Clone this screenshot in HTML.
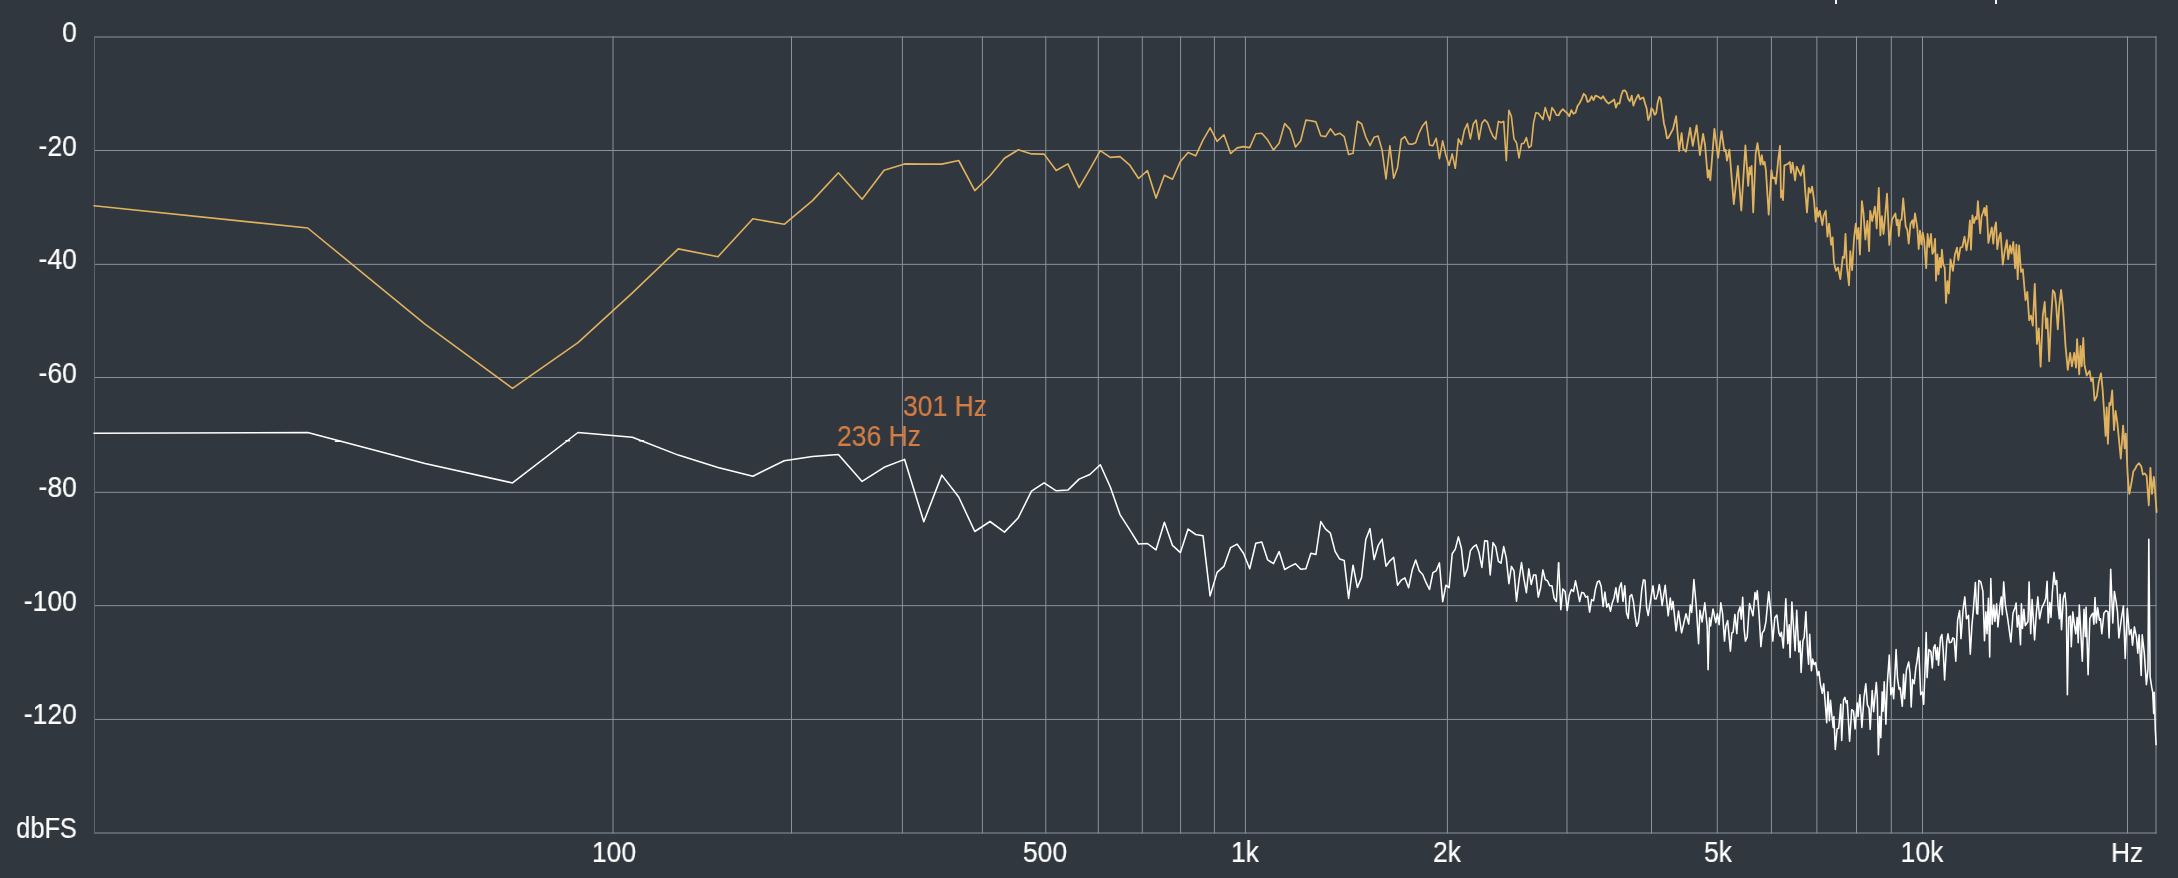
<!DOCTYPE html>
<html><head><meta charset="utf-8"><title>Spectrum</title>
<style>
html,body{margin:0;padding:0;background:#31373e;}
body{width:2178px;height:878px;position:relative;overflow:hidden;font-family:"Liberation Sans",sans-serif;color:#fff;}
.t{position:absolute;font-size:30.3px;line-height:36px;height:36px;white-space:nowrap;transform:scaleX(0.875);will-change:transform;-webkit-text-stroke:0.2px currentColor;}
.yl{left:0;width:76.9px;text-align:right;transform-origin:100% 50%;}
.xl{width:100px;text-align:center;transform-origin:50% 50%;}
.pk{color:#d47e45;transform-origin:0 50%;}
</style></head><body>
<svg width="2178" height="878" viewBox="0 0 2178 878" style="position:absolute;left:0;top:0">
<path d="M94.0 37.00 H2156.5 M94.0 150.50 H2156.5 M94.0 264.35 H2156.5 M94.0 377.50 H2156.5 M94.0 492.30 H2156.5 M94.0 605.65 H2156.5 M94.0 719.45 H2156.5 M94.0 833.00 H2156.5 M613.00 36.5 V833.5 M791.50 36.5 V833.5 M902.40 36.5 V833.5 M982.40 36.5 V833.5 M1045.80 36.5 V833.5 M1098.30 36.5 V833.5 M1142.30 36.5 V833.5 M1180.60 36.5 V833.5 M1214.40 36.5 V833.5 M1245.40 36.5 V833.5 M1447.40 36.5 V833.5 M1567.00 36.5 V833.5 M1651.50 36.5 V833.5 M1717.30 36.5 V833.5 M1771.40 36.5 V833.5 M1816.90 36.5 V833.5 M1856.50 36.5 V833.5 M1891.30 36.5 V833.5 M1922.50 36.5 V833.5 M2127.50 36.5 V833.5 M2156.00 36.5 V833.5" stroke="#8a929c" stroke-width="1" fill="none"/>
<rect x="94" y="36.5" width="1" height="797" fill="#5e656e"/>
<rect x="1835" y="0" width="2" height="4" fill="#f2f2f8"/><rect x="1995" y="0" width="2" height="4" fill="#f2f2f8"/>
<path d="M94.0 205.8 L307.7 228.0 L425.0 324.1 L512.5 388.4 L578.0 342.7 L632.4 292.9 L678.3 248.9 L718.0 256.7 L752.9 218.8 L784.2 224.3 L812.5 200.6 L838.4 172.8 L862.1 199.2 L884.1 170.3 L904.6 163.9 L923.8 164.1 L941.8 164.1 L958.7 160.5 L974.8 190.6 L990.0 175.7 L1004.5 158.2 L1018.3 149.8 L1031.5 153.9 L1044.1 154.1 L1056.2 170.5 L1067.9 163.9 L1079.1 187.7 L1089.8 169.3 L1100.3 150.7 L1110.3 157.4 L1120.0 156.6 L1129.5 164.8 L1138.6 178.5 L1147.4 170.6 L1156.0 198.1 L1164.4 175.2 L1172.5 179.2 L1180.4 161.4 L1188.1 152.4 L1195.7 155.8 L1203.0 140.1 L1210.1 127.8 L1217.1 141.4 L1223.9 134.8 L1230.6 153.6 L1237.1 147.9 L1243.5 146.6 L1249.7 147.6 L1255.8 133.8 L1261.8 133.2 L1267.7 140.1 L1273.5 150.1 L1279.1 143.2 L1284.7 123.6 L1290.1 129.4 L1295.5 147.0 L1300.7 140.7 L1305.9 120.1 L1310.9 120.7 L1315.9 121.9 L1320.8 135.7 L1325.6 136.6 L1330.4 128.8 L1335.1 135.1 L1339.7 133.2 L1344.2 136.6 L1348.6 154.5 L1353.0 153.3 L1357.4 121.3 L1361.6 123.8 L1365.8 137.0 L1370.0 145.7 L1374.1 137.3 L1378.1 136.1 L1382.1 150.1 L1386.0 178.9 L1389.9 145.7 L1393.7 178.3 L1397.5 167.7 L1401.2 139.5 L1404.9 136.6 L1408.6 143.9 L1412.2 144.2 L1415.7 142.7 L1419.2 132.6 L1422.7 125.7 L1426.1 121.4 L1429.5 144.9 L1432.9 145.8 L1436.2 138.3 L1439.4 158.7 L1442.7 140.8 L1445.9 155.2 L1449.1 165.5 L1452.2 153.9 L1455.3 168.3 L1458.4 138.9 L1461.4 144.5 L1464.4 130.1 L1467.4 123.6 L1470.4 138.9 L1473.3 123.9 L1476.2 120.1 L1479.0 139.5 L1481.9 123.2 L1484.7 119.8 L1487.5 122.6 L1490.2 130.1 L1493.0 136.4 L1495.7 139.1 L1498.4 121.4 L1501.0 122.6 L1503.7 121.4 L1506.3 160.8 L1508.9 110.3 L1511.4 116.3 L1514.0 138.9 L1516.5 142.7 L1519.0 157.9 L1521.5 143.9 L1523.9 143.3 L1526.4 137.6 L1528.8 147.7 L1531.2 145.8 L1533.6 122.6 L1535.9 112.8 L1538.3 113.2 L1540.6 116.3 L1542.9 119.5 L1545.2 107.6 L1547.5 114.5 L1549.7 120.4 L1552.0 107.6 L1554.2 110.7 L1556.4 115.1 L1558.6 115.3" stroke="#e0b25e" stroke-width="1.6" fill="none" stroke-linejoin="round" stroke-linecap="round"/>
<path d="M1558.6 115.3 L1560.8 111.3 L1562.9 109.1 L1565.1 111.3 L1567.2 113.2 L1569.3 116.3 L1571.4 110.1 L1573.5 113.8 L1575.5 112.8 L1577.6 105.7 L1579.6 103.2 L1581.7 98.8 L1583.7 93.8 L1585.7 95.7 L1587.6 101.9 L1589.6 100.7 L1591.6 96.3 L1593.5 100.1 L1595.5 95.7 L1597.4 96.3 L1599.3 97.5 L1601.2 98.8 L1603.1 96.3 L1604.9 99.4 L1606.8 101.9 L1608.6 103.6 L1610.5 102.3 L1612.3 101.1 L1614.1 99.4 L1615.9 107.6 L1617.7 103.2 L1619.5 103.6 L1621.3 95.0 L1623.0 90.7 L1624.8 90.3 L1626.5 92.5 L1628.2 98.8 L1629.9 101.3 L1631.7 95.7 L1633.4 105.7 L1635.0 101.3 L1636.7 97.5 L1638.4 94.8 L1640.1 99.4 L1641.7 98.2 L1643.4 97.5 L1645.0 103.2 L1646.6 108.2 L1648.2 120.1 L1649.8 116.3 L1651.4 108.2 L1653.0 110.1 L1654.6 114.8 L1656.2 113.2 L1657.7 102.6 L1659.3 96.9 L1660.8 98.8 L1662.4 111.3 L1663.9 123.2 L1665.4 128.9 L1667.0 138.3 L1668.2 138.0 L1673.0 129.1 L1676.1 116.2 L1679.1 151.0 L1681.6 133.2 L1683.2 149.0 L1686.0 151.7 L1690.1 127.8 L1692.8 145.8 L1696.6 125.3 L1699.9 155.1 L1703.1 133.9 L1705.1 145.5 L1707.8 177.7 L1708.9 170.2 L1710.3 180.4 L1714.4 128.9 L1718.1 157.8 L1721.5 131.2 L1724.3 151.0 L1725.6 149.6 L1727.0 160.6 L1729.4 149.6 L1733.8 204.1 L1737.9 166.0 L1741.3 210.5 L1745.4 145.5 L1748.2 185.9 L1749.5 167.4 L1750.6 174.3 L1751.6 166.0 L1753.2 212.3 L1755.7 153.7 L1757.5 143.1 L1760.5 164.7 L1761.8 155.1 L1763.2 164.7 L1764.6 161.9 L1765.9 170.2 L1768.7 214.6 L1771.4 170.2 L1772.8 178.4 L1774.8 177.7 L1775.9 183.8 L1778.3 159.2 L1780.0 145.8 L1781.0 197.5 L1781.9 190.7 L1783.0 200.2 L1784.4 165.4 L1787.8 164.0 L1789.9 161.9 L1791.0 172.9 L1792.6 162.6 L1795.1 180.4 L1796.7 166.7 L1800.8 175.6 L1803.5 165.4 L1805.2 190.7 L1807.0 212.5 L1808.7 187.9 L1810.4 192.7 L1812.1 186.6 L1814.1 200.5 L1815.7 221.7 L1816.8 208.0 L1818.2 216.9 L1819.8 210.8 L1822.3 225.1 L1823.7 215.5 L1825.7 210.8 L1827.5 236.7 L1829.1 223.7 L1831.2 244.9 L1832.6 237.4 L1833.9 262.0 L1836.0 270.9 L1838.0 267.5 L1840.3 279.1 L1842.8 256.6 L1844.2 257.9 L1845.5 234.0 L1846.9 266.1 L1849.0 285.3 L1850.3 251.1 L1852.1 270.2 L1854.0 238.8 L1855.8 223.7 L1857.2 238.8 L1858.5 227.8 L1859.9 254.5 L1861.9 201.2 L1863.6 214.2 L1865.4 239.5 L1867.4 221.0 L1869.1 251.1 L1870.2 210.8 L1872.2 221.0 L1874.9 206.7 L1876.7 228.5 L1878.8 187.9 L1880.4 235.4 L1881.8 216.2 L1883.5 234.0 L1885.2 215.5 L1887.0 193.7 L1889.3 244.9 L1892.0 219.6 L1895.4 213.5 L1896.8 225.1 L1897.8 219.6 L1898.9 236.0 L1900.2 220.3 L1901.6 219.6 L1903.2 198.5 L1905.7 226.5 L1907.3 229.9 L1908.7 243.6 L1910.5 223.7 L1912.5 220.3 L1913.6 227.8 L1915.0 213.5 L1917.3 227.8 L1918.7 249.0 L1920.0 230.6 L1921.4 244.3 L1922.8 232.6 L1924.1 240.2 L1926.2 268.2 L1927.6 234.0 L1929.2 247.0 L1931.0 234.0 L1932.4 253.8 L1933.7 251.1 L1935.1 238.8 L1936.0 280.5 L1937.4 254.5 L1938.5 274.3 L1939.9 257.9 L1941.0 267.5 L1941.9 249.7 L1943.3 264.8 L1944.7 267.5 L1946.0 303.0 L1947.4 281.2 L1948.8 293.5 L1950.5 259.3 L1952.9 270.9 L1954.9 254.5 L1957.0 247.7 L1958.3 260.0 L1960.4 247.7 L1962.4 247.0 L1964.5 236.7 L1966.5 250.4 L1968.6 237.4 L1969.9 220.3 L1971.0 249.7 L1972.4 215.5 L1974.0 223.1 L1975.7 216.9 L1976.8 219.0 L1977.9 201.2 L1980.2 233.3 L1981.6 216.2 L1982.9 212.8 L1984.3 208.0 L1985.3 215.5 L1986.6 206.0 L1988.4 242.9 L1990.0 235.5 L1991.8 227.3 L1993.3 243.7 L1994.6 228.2 L1996.0 222.4 L1997.3 249.2 L1999.1 237.3 L2000.6 232.8 L2002.8 264.7 L2004.6 251.9 L2006.8 240.1 L2008.2 259.2 L2010.0 245.5 L2011.5 253.7 L2013.3 241.9 L2015.1 268.3 L2016.4 244.6 L2017.7 279.2 L2019.1 245.5 L2021.0 271.9 L2022.8 269.2 L2025.5 300.2 L2027.3 292.0 L2029.2 320.2 L2031.0 315.7 L2032.8 325.7 L2034.8 283.8 L2037.0 343.9 L2038.8 328.4 L2040.6 366.7 L2042.8 315.7 L2044.7 302.0 L2046.1 328.4 L2047.4 318.4 L2049.2 361.2 L2051.0 319.3 L2052.9 290.2 L2054.7 292.9 L2056.1 304.7 L2057.8 329.3 L2059.2 306.6 L2061.1 289.8 L2062.9 306.6 L2064.3 326.6 L2065.5 345.9 L2067.8 369.8 L2070.1 352.8 L2071.9 366.4 L2074.2 352.8 L2076.0 367.6 L2077.1 339.1 L2079.2 374.4 L2080.5 345.9 L2081.7 366.4 L2083.3 338.0 L2084.4 364.2 L2086.7 375.5 L2089.6 371.0 L2091.2 381.2 L2092.8 377.8 L2094.6 400.6 L2096.9 396.0 L2098.7 382.4 L2101.0 373.3 L2102.6 389.2 L2104.4 416.5 L2105.6 435.9 L2106.7 407.4 L2107.9 443.8 L2109.4 402.9 L2110.6 405.1 L2112.2 390.3 L2114.0 430.2 L2115.6 410.8 L2117.4 423.4 L2120.8 458.6 L2123.1 425.6 L2124.7 448.4 L2125.8 433.6 L2127.7 475.7 L2129.3 493.9 L2131.1 484.8 L2133.4 471.2 L2135.2 468.9 L2136.8 465.5 L2139.0 463.2 L2141.3 466.6 L2142.9 474.6 L2144.7 473.4 L2146.6 475.7 L2148.8 505.3 L2150.4 467.8 L2152.0 493.9 L2153.8 476.9 L2155.0 489.4 L2156.6 512.1" stroke="#e0b25e" stroke-width="1.8" fill="none" stroke-linejoin="round" stroke-linecap="round"/>
<path d="M94.0 433.3 L307.7 432.5 L425.0 463.5 L512.5 482.9 L578.0 432.5 L632.4 437.3 L678.3 455.1 L718.0 467.4 L752.9 476.2 L784.2 460.8 L812.5 456.4 L838.4 454.5 L862.1 481.4 L884.1 467.3 L904.6 459.4 L923.8 521.7 L941.8 475.1 L958.7 497.0 L974.8 531.5 L990.0 521.5 L1004.5 532.1 L1018.3 517.7 L1031.5 491.1 L1044.1 482.9 L1056.2 490.8 L1067.9 490.1 L1079.1 479.1 L1089.8 474.5 L1100.3 464.7 L1110.3 487.0 L1120.0 514.6 L1129.5 529.3 L1138.6 544.0 L1147.4 543.5 L1156.0 549.9 L1164.4 522.3 L1172.5 545.4 L1180.4 552.6 L1188.1 529.1 L1195.7 534.5 L1203.0 535.7 L1210.1 595.9 L1217.1 572.4 L1223.9 566.4 L1230.6 547.6 L1237.1 544.1 L1243.5 553.3 L1249.7 568.7 L1255.8 543.2 L1261.8 542.0 L1267.7 559.9 L1273.5 563.7 L1279.1 551.6 L1284.7 569.5 L1290.1 566.4 L1295.5 563.7 L1300.7 569.2 L1305.9 568.7 L1310.9 553.3 L1315.9 554.5 L1320.8 521.6 L1325.6 529.1 L1330.4 533.2 L1335.1 551.4 L1339.7 559.1 L1344.2 560.4 L1348.6 598.4 L1353.0 565.2 L1357.4 587.5 L1361.6 577.4 L1365.8 539.5 L1370.0 528.6 L1374.1 559.5 L1378.1 545.7 L1382.1 539.1 L1386.0 566.2 L1389.9 560.8 L1393.7 557.4 L1397.5 585.2 L1401.2 580.2 L1404.9 577.9 L1408.6 587.7 L1412.2 570.1 L1415.7 560.1 L1419.2 570.8 L1422.7 574.5 L1426.1 582.7 L1429.5 589.5 L1432.9 572.6 L1436.2 570.8 L1439.4 562.9 L1442.7 601.7 L1445.9 585.2 L1449.1 587.7 L1452.2 553.8 L1455.3 549.1 L1458.4 536.9 L1461.4 548.2 L1464.4 576.4 L1467.4 568.9 L1470.4 550.7 L1473.3 546.9 L1476.2 544.8 L1479.0 552.6 L1481.9 567.4 L1484.7 540.7 L1487.5 541.1 L1490.2 574.9 L1493.0 542.6 L1495.7 546.9 L1498.4 561.4 L1501.0 563.2 L1503.7 546.6 L1506.3 558.2 L1508.9 583.7 L1511.4 566.4 L1514.0 570.8 L1516.5 601.2 L1519.0 580.2 L1521.5 562.6 L1523.9 578.9 L1526.4 592.7 L1528.8 568.9 L1531.2 584.5 L1533.6 574.9 L1535.9 575.1 L1538.3 597.1 L1540.6 587.7 L1542.9 569.9 L1545.2 579.5 L1547.5 580.8 L1549.7 585.8 L1552.0 585.8 L1554.2 598.3 L1556.4 601.5 L1558.6 562.9" stroke="#ffffff" stroke-width="1.55" fill="none" stroke-linejoin="round" stroke-linecap="round"/>
<path d="M1558.6 562.9 L1560.8 609.6 L1562.9 588.9 L1565.1 591.4 L1567.2 610.5 L1569.3 595.2 L1571.4 589.5 L1573.5 591.4 L1575.5 580.8 L1577.6 590.8 L1579.6 601.5 L1581.7 592.4 L1583.7 592.9 L1585.7 597.1 L1587.6 596.2 L1589.6 612.1 L1591.6 599.6 L1593.5 600.8 L1595.5 588.9 L1597.4 582.0 L1599.3 580.8 L1601.2 586.4 L1603.1 606.5 L1604.9 592.1 L1606.8 607.1 L1608.6 603.7 L1610.5 611.2 L1612.3 602.7 L1614.1 597.7 L1615.9 587.7 L1617.7 602.1 L1619.5 587.7 L1621.3 582.7 L1623.0 601.5 L1624.8 585.8 L1626.5 612.7 L1628.2 618.4 L1629.9 596.4 L1631.7 594.6 L1633.4 601.5 L1635.0 615.2 L1636.7 626.3 L1638.4 622.1 L1640.1 607.7 L1641.7 590.2 L1643.4 579.9 L1645.0 580.2 L1646.6 607.7 L1648.2 615.5 L1649.8 605.2 L1651.4 595.2 L1653.0 585.8 L1654.6 598.7 L1656.2 598.9 L1657.7 593.9 L1659.3 584.5 L1660.8 593.9 L1662.1 605.5 L1665.2 585.3 L1668.2 615.8 L1670.3 598.0 L1671.6 609.6 L1673.0 601.4 L1676.1 630.8 L1678.5 611.0 L1681.6 632.9 L1686.0 613.7 L1688.7 624.0 L1690.3 604.9 L1691.7 612.4 L1693.9 579.6 L1696.2 605.5 L1698.6 643.8 L1699.9 610.3 L1702.1 621.9 L1704.8 602.8 L1707.2 626.7 L1708.1 669.8 L1709.5 617.8 L1710.6 626.0 L1713.0 609.0 L1715.8 622.6 L1717.4 613.7 L1719.1 624.7 L1720.8 602.8 L1722.6 613.7 L1724.5 641.1 L1725.9 626.0 L1727.7 620.6 L1730.4 651.3 L1731.8 632.9 L1733.1 632.2 L1734.9 614.4 L1736.8 633.6 L1738.2 612.4 L1740.0 606.9 L1741.3 619.2 L1742.7 597.3 L1744.1 628.8 L1745.4 641.1 L1747.2 637.0 L1749.5 603.5 L1751.3 609.6 L1753.0 615.8 L1755.0 592.6 L1756.1 599.4 L1757.3 590.8 L1759.1 615.1 L1760.9 646.6 L1762.3 632.9 L1764.2 630.2 L1765.9 621.9 L1768.7 591.9 L1770.7 611.0 L1772.8 641.1 L1774.8 617.8 L1776.9 615.1 L1778.9 632.9 L1780.3 636.3 L1781.4 632.2 L1783.3 647.9 L1785.8 598.7 L1787.8 643.8 L1789.2 624.7 L1790.1 657.5 L1791.9 602.1 L1793.7 630.2 L1795.1 650.7 L1796.7 610.3 L1798.8 652.0 L1800.1 641.1 L1801.1 672.5 L1802.9 641.1 L1804.2 637.0 L1805.9 611.7 L1807.6 652.0 L1808.6 664.3 L1809.7 634.3 L1811.4 670.8 L1812.7 659.1 L1814.1 664.6 L1815.7 662.6 L1817.5 675.5 L1818.9 671.4 L1820.3 683.7 L1822.3 693.3 L1823.7 683.7 L1825.0 700.2 L1826.7 722.7 L1828.0 691.9 L1829.4 720.7 L1830.5 700.2 L1831.9 715.9 L1833.2 727.5 L1833.9 716.6 L1835.3 749.4 L1837.1 728.9 L1838.7 728.2 L1840.8 704.3 L1841.7 740.5 L1843.5 700.2 L1844.9 697.4 L1846.2 702.9 L1847.2 700.8 L1849.6 741.2 L1851.7 709.7 L1853.5 711.1 L1855.1 728.9 L1857.2 702.9 L1858.1 716.6 L1859.9 694.7 L1861.9 727.5 L1864.0 697.4 L1865.8 683.7 L1867.4 704.9 L1869.1 708.4 L1870.2 729.5 L1872.2 690.6 L1873.6 711.8 L1876.3 682.4 L1877.3 697.4 L1878.4 754.8 L1879.7 716.6 L1880.8 737.7 L1882.2 691.9 L1883.1 711.1 L1884.2 681.7 L1885.9 724.1 L1887.2 685.1 L1889.3 655.0 L1890.9 694.7 L1892.4 687.8 L1893.7 698.8 L1896.1 649.6 L1897.5 678.3 L1899.1 689.2 L1900.2 687.8 L1902.3 706.3 L1903.6 674.2 L1904.6 698.8 L1906.4 670.1 L1908.7 661.9 L1910.1 674.2 L1911.2 707.0 L1912.5 679.6 L1914.2 683.7 L1915.9 667.3 L1916.9 661.9 L1918.7 647.5 L1920.7 694.7 L1922.4 691.9 L1923.7 704.3 L1925.1 667.3 L1926.2 632.5 L1927.1 677.6 L1928.9 649.5 L1930.9 651.6 L1932.3 668.0 L1933.7 647.5 L1935.0 644.8 L1936.4 659.8 L1937.5 647.5 L1938.5 665.3 L1940.5 637.9 L1941.9 634.5 L1943.2 650.2 L1944.6 680.0 L1946.7 642.0 L1948.0 633.8 L1949.4 642.7 L1951.4 642.0 L1952.8 637.9 L1954.2 638.6 L1955.8 661.2 L1957.6 620.2 L1959.6 610.6 L1961.0 638.6 L1963.1 609.2 L1964.8 596.9 L1966.5 618.8 L1968.5 615.4 L1970.3 654.3 L1971.9 625.6 L1973.3 610.6 L1975.4 582.6 L1976.7 613.3 L1977.7 614.0 L1978.8 580.5 L1980.8 581.9 L1982.9 591.4 L1984.5 640.7 L1985.9 611.9 L1987.0 633.8 L1988.4 598.3 L1989.7 657.1 L1990.8 578.5 L1992.2 624.3 L1993.8 605.1 L1994.9 621.5 L1996.6 603.7 L1997.9 627.0 L2000.0 605.1 L2001.3 596.9 L2002.3 614.7 L2003.7 581.9 L2005.4 605.1 L2007.5 617.4 L2010.9 642.0 L2013.0 613.3 L2015.0 607.8 L2016.1 603.1 L2017.3 627.0 L2018.7 615.4 L2020.5 644.8 L2021.4 603.7 L2022.5 628.4 L2023.9 609.2 L2025.3 625.6 L2028.0 621.5 L2029.1 581.9 L2030.7 633.8 L2032.1 599.6 L2034.6 640.0 L2036.2 614.7 L2037.8 596.9 L2039.6 618.8 L2041.7 607.8 L2044.4 602.4 L2045.8 598.3 L2047.1 581.2 L2048.2 622.9 L2049.9 602.4 L2051.0 617.4 L2052.3 592.8 L2054.0 572.3 L2055.3 584.6 L2056.7 580.5 L2058.1 606.5 L2059.4 618.8 L2060.1 594.2 L2061.5 629.7 L2063.3 598.3 L2064.9 592.8 L2066.3 607.8 L2067.4 694.7 L2068.7 617.4 L2070.4 616.0 L2071.3 646.8 L2072.8 611.9 L2074.5 625.6 L2075.8 633.8 L2077.2 617.4 L2078.2 642.7 L2079.3 605.1 L2080.6 628.4 L2082.3 661.2 L2084.0 609.2 L2085.4 636.6 L2086.1 607.2 L2088.1 674.8 L2089.8 618.8 L2091.6 614.7 L2092.9 613.3 L2093.9 624.3 L2095.0 597.6 L2096.3 622.9 L2097.7 607.8 L2099.4 620.2 L2100.5 618.8 L2101.8 633.8 L2103.9 613.3 L2105.9 610.6 L2108.0 611.9 L2109.1 637.9 L2110.7 569.3 L2112.8 622.9 L2114.4 591.4 L2116.2 602.4 L2117.5 611.9 L2118.9 637.9 L2121.3 619.1 L2123.4 606.0 L2125.2 658.4 L2127.3 608.6 L2129.4 634.8 L2131.2 629.6 L2132.5 645.3 L2134.4 626.9 L2136.5 637.4 L2137.8 653.1 L2139.1 634.8 L2141.2 675.4 L2142.2 634.8 L2144.3 653.1 L2146.4 684.6 L2148.0 668.9 L2148.8 539.2 L2150.1 676.7 L2151.7 687.2 L2152.7 692.4 L2153.7 713.4 L2154.3 692.4 L2155.3 729.1 L2156.1 744.8" stroke="#ffffff" stroke-width="1.55" fill="none" stroke-linejoin="round" stroke-linecap="round"/>
<path d="M335.5 441.2 H340.5 M566 440.8 H569.5 M639.5 440.8 H643.5" stroke="#ffffff" stroke-width="1.6" fill="none" stroke-linecap="round"/>
</svg>
<div class="t yl" style="top:14.0px">0</div>
<div class="t yl" style="top:128.0px">-20</div>
<div class="t yl" style="top:241.0px">-40</div>
<div class="t yl" style="top:355.0px">-60</div>
<div class="t yl" style="top:469.0px">-80</div>
<div class="t yl" style="top:583.0px">-100</div>
<div class="t yl" style="top:696.0px">-120</div>
<div class="t yl" style="top:809.5px;font-size:28.9px;transform:scaleX(0.878)">dbFS</div>
<div class="t xl" style="left:563.6px;top:833.7px">100</div>
<div class="t xl" style="left:995.1px;top:833.7px">500</div>
<div class="t xl" style="left:1195.4px;top:833.7px">1k</div>
<div class="t xl" style="left:1397.1px;top:833.7px">2k</div>
<div class="t xl" style="left:1667.5px;top:833.7px">5k</div>
<div class="t xl" style="left:1872.1px;top:833.7px">10k</div>
<div class="t xl" style="left:2077.4px;top:834.8px;font-size:27.6px;transform:scaleX(0.955)">Hz</div>
<div class="t pk" style="left:902.5px;top:388.2px">301 Hz</div>
<div class="t pk" style="left:836.5px;top:417.9px">236 Hz</div>
</body></html>
